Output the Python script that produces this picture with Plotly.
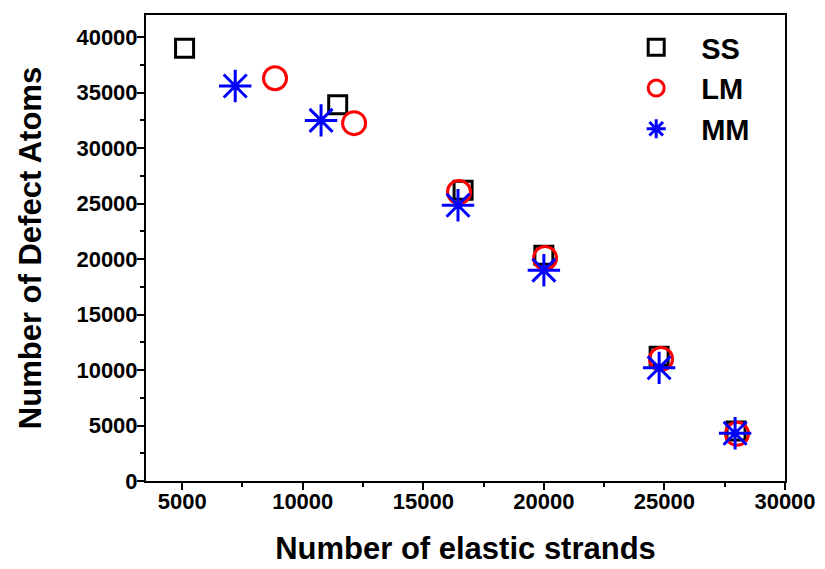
import plotly.graph_objects as go

ss_x = [5100, 11450, 16650, 20000, 24780, 27970]
ss_y = [39000, 33900, 26200, 20350, 11250, 4500]
lm_x = [8850, 12130, 16480, 20050, 24860, 28010]
lm_y = [36300, 32250, 26050, 20100, 11000, 4250]
mm_x = [7200, 10760, 16440, 20000, 24780, 27930]
mm_y = [35600, 32500, 24850, 19000, 10200, 4300]

x_ticks = [5000, 10000, 15000, 20000, 25000, 30000]
y_ticks = [0, 5000, 10000, 15000, 20000, 25000, 30000, 35000, 40000]

FONT = "Liberation Sans, Arial, sans-serif"

fig = go.Figure()
fig.add_trace(go.Scatter(x=ss_x, y=ss_y, mode="markers", name="<b>SS</b>",
                         marker=dict(symbol="square-open", size=18, color="black",
                                     line=dict(width=3, color="black"))))
fig.add_trace(go.Scatter(x=lm_x, y=lm_y, mode="markers", name="<b>LM</b>",
                         marker=dict(symbol="circle-open", size=23, color="red",
                                     line=dict(width=3, color="red"))))
fig.add_trace(go.Scatter(x=mm_x, y=mm_y, mode="markers", name="<b>MM</b>",
                         marker=dict(symbol="asterisk-open", size=27, color="blue",
                                     line=dict(width=3, color="blue"))))

axis_common = dict(showgrid=False, zeroline=False, showline=True, linecolor="black",
                   linewidth=2, mirror=True, ticks="outside", ticklen=7, tickwidth=2,
                   tickcolor="black",
                   tickfont=dict(family=FONT, size=22, color="black", weight="bold"))

fig.update_xaxes(range=[3500, 30000], tickmode="array",
                 tickvals=x_ticks, ticktext=[str(v) for v in x_ticks],
                 ticklabelstandoff=-7,
                 minor=dict(tickvals=[7500, 12500, 17500, 22500, 27500], ticklen=4,
                            tickwidth=2, tickcolor="black", ticks="outside"),
                 title=dict(text="Number of elastic strands",
                            font=dict(family=FONT, size=31, color="black", weight="bold"),
                            standoff=24),
                 **axis_common)
fig.update_yaxes(range=[0, 42000], tickmode="array",
                 tickvals=y_ticks, ticktext=[str(v) for v in y_ticks],
                 ticklabelstandoff=-5,
                 minor=dict(tickvals=[2500, 7500, 12500, 17500, 22500, 27500, 32500, 37500],
                            ticklen=4, tickwidth=2, tickcolor="black", ticks="outside"),
                 title=dict(text="Number of Defect Atoms",
                            font=dict(family=FONT, size=31, color="black", weight="bold"),
                            standoff=26),
                 **axis_common)

fig.update_layout(width=817, height=561, plot_bgcolor="white", paper_bgcolor="white",
                  margin=dict(l=138, r=40, t=7, b=88, autoexpand=False),
                  legend=dict(x=0.728, y=0.985, xanchor="left", yanchor="top",
                              bgcolor="rgba(0,0,0,0)", itemsizing="trace", itemwidth=80,
                              font=dict(family=FONT, size=29, color="black"),
                              tracegroupgap=0))

fig.write_html("out.html")
